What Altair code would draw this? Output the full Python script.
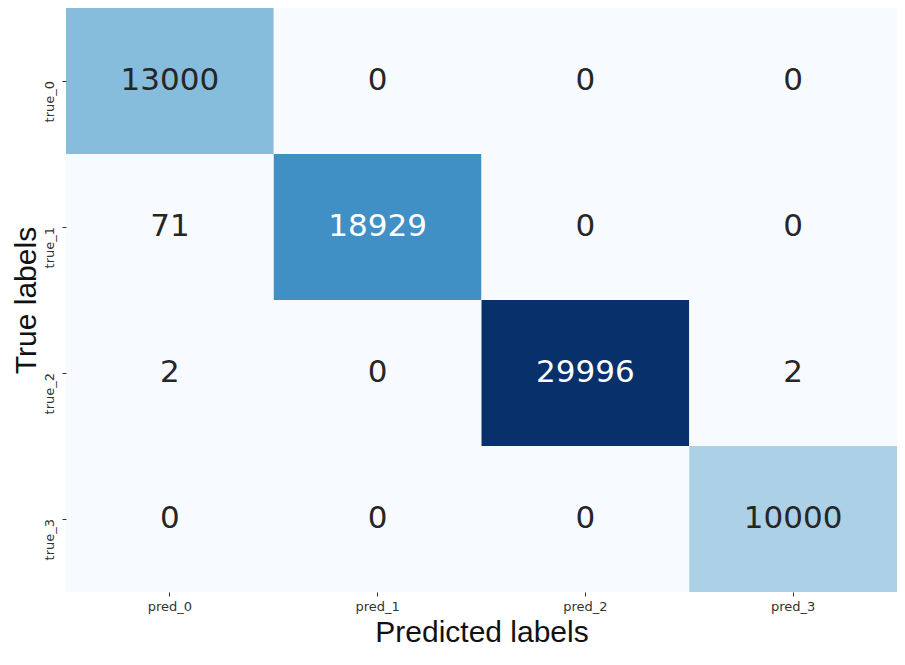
import altair as alt
import pandas as pd

true_labels = ["true_0", "true_1", "true_2", "true_3"]
pred_labels = ["pred_0", "pred_1", "pred_2", "pred_3"]
counts = [
    [13000, 0, 0, 0],
    [71, 18929, 0, 0],
    [2, 0, 29996, 2],
    [0, 0, 0, 10000],
]

rows = []
for i, t in enumerate(true_labels):
    for j, p in enumerate(pred_labels):
        rows.append({"true": t, "pred": p, "count": counts[i][j]})
df = pd.DataFrame(rows)

vmax = max(max(r) for r in counts)
blues = ["#f7fbff", "#deebf7", "#c6dbef", "#9ecae1", "#6baed6",
         "#4292c6", "#2171b5", "#08519c", "#08306b"]
stops = [vmax * k / 8 for k in range(9)]

base = alt.Chart(df)

rect = base.mark_rect().encode(
    x=alt.X("pred:N", sort=pred_labels,
            scale=alt.Scale(paddingInner=0, paddingOuter=0),
            axis=alt.Axis(title="Predicted labels", labelAngle=0,
                          labelFont="DejaVu Sans", labelFontSize=13,
                          labelColor="#333333", labelPadding=4,
                          tickSize=4, tickColor="#333333", domain=False,
                          titleFont="Liberation Sans", titleFontSize=30,
                          titleFontWeight="normal", titleColor="#111111",
                          titlePadding=4)),
    y=alt.Y("true:N", sort=true_labels,
            scale=alt.Scale(paddingInner=0, paddingOuter=0),
            axis=alt.Axis(title="True labels", labelAngle=270,
                          labelAlign="right", labelBaseline="bottom",
                          labelFont="DejaVu Sans", labelFontSize=13,
                          labelColor="#333333", labelPadding=6,
                          tickSize=4, tickColor="#333333", domain=False,
                          titleFont="Liberation Sans", titleFontSize=30,
                          titleFontWeight="normal", titleColor="#111111",
                          titlePadding=2)),
    color=alt.Color("count:Q",
                    scale=alt.Scale(domain=stops, range=blues),
                    legend=None),
)

text = base.mark_text(fontSize=31, font="DejaVu Sans").encode(
    x=alt.X("pred:N", sort=pred_labels),
    y=alt.Y("true:N", sort=true_labels),
    text=alt.Text("count:Q", format="d"),
    color=alt.condition(alt.datum.count > vmax * 0.55,
                        alt.value("white"), alt.value("#262626")),
)

chart = (rect + text).properties(
    width=831, height=584,
    autosize=alt.AutoSizeParams(type="none"),
    padding={"left": 58, "top": 0, "right": 0, "bottom": 63},
).configure_view(stroke=None)

chart.save("out.html", embed_options={"renderer": "svg", "actions": False})
